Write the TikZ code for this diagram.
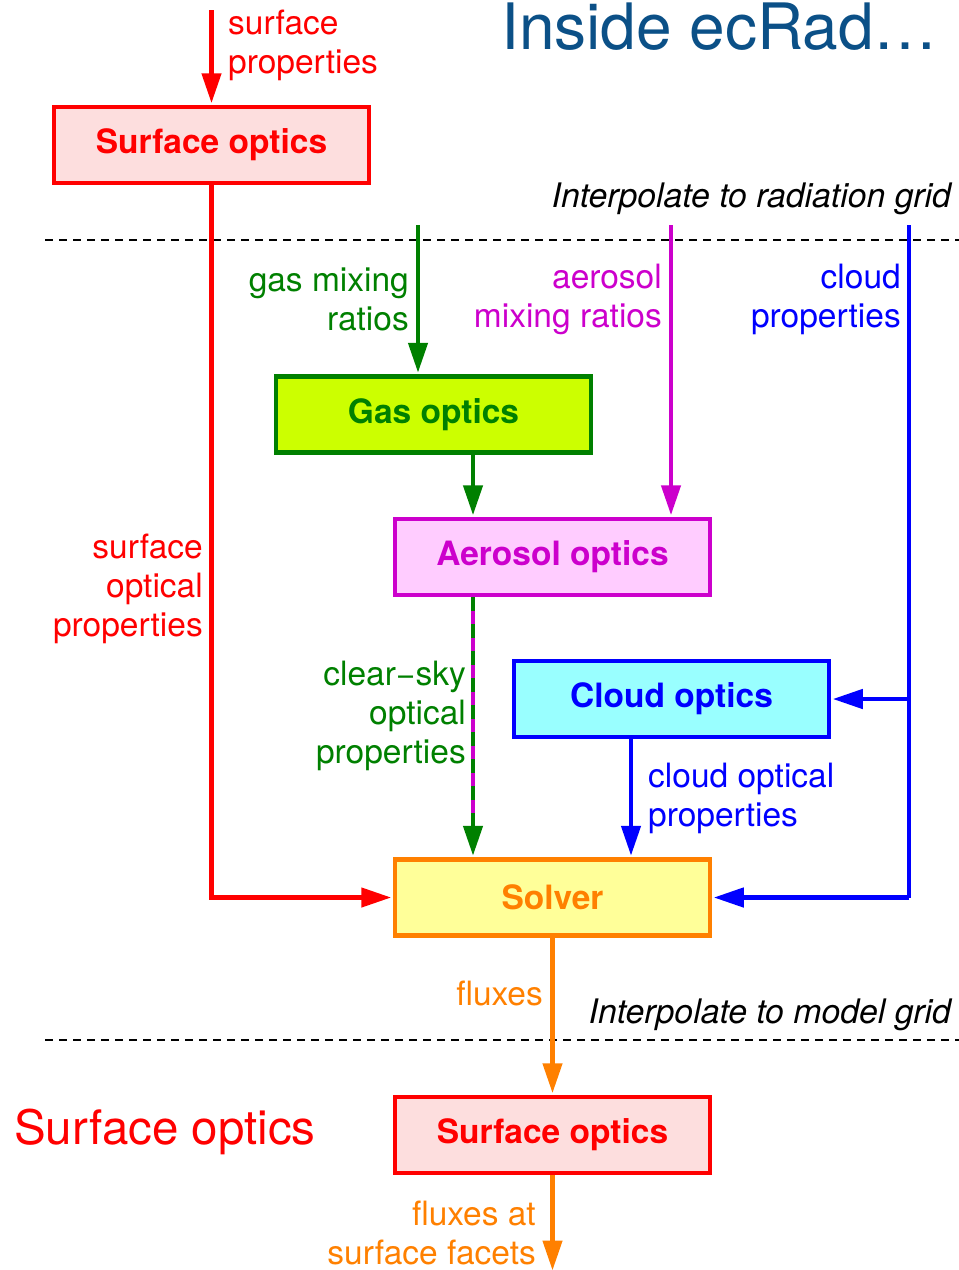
\documentclass[tikz,border=0pt]{standalone}
\usepackage{fontspec}
\setmainfont{TeX Gyre Heros}
\usetikzlibrary{arrows.meta}
\definecolor{cred}{RGB}{255,0,0}
\definecolor{cgreen}{RGB}{0,128,0}
\definecolor{cmag}{RGB}{204,0,204}
\definecolor{cblue}{RGB}{0,0,255}
\definecolor{corange}{RGB}{255,128,0}
\definecolor{fpink}{RGB}{253,222,222}
\definecolor{flime}{RGB}{204,255,0}
\definecolor{fmag}{RGB}{255,204,255}
\definecolor{fcyan}{RGB}{153,255,255}
\definecolor{fyellow}{RGB}{255,255,153}
\definecolor{ctitle}{RGB}{11,80,135}
\begin{document}
\begin{tikzpicture}[x=1pt,y=-1pt,
  box/.style={draw, line width=4.5pt, minimum width=315pt, minimum height=76pt, inner sep=0pt,
    font=\bfseries\fontsize{33.5}{39}\selectfont},
  lab/.style={inner sep=0pt, font=\fontsize{33.5}{39}\selectfont},
  conn/.style={line width=4.5pt, shorten >=1.5pt, -{Triangle[length=30pt,width=19pt]}},
  sep/.style={line width=2pt, dash pattern=on 8pt off 6pt}]
\useasboundingbox (0,0) rectangle (959,1270);

% boxes
\node[box, draw=cred, fill=fpink, text=cred] (surf1) at (211.5,145) {Surface optics};
\node[box, draw=cgreen, fill=flime, text=cgreen] (gas) at (433.5,414.5) {Gas optics};
\node[box, draw=cmag, fill=fmag, text=cmag] (aero) at (552.5,557) {Aerosol optics};
\node[box, draw=cblue, fill=fcyan, text=cblue] (cloud) at (671.5,699) {Cloud optics};
\node[box, draw=corange, fill=fyellow, text=corange] (solver) at (552.5,897.5) {Solver};
\node[box, draw=cred, fill=fpink, text=cred] (surf2) at (552.5,1135) {Surface optics};

% titles
\node[inner sep=0pt, anchor=east, text=ctitle, font=\fontsize{64}{72}\selectfont] (title) at (938,27) {Inside ecRad…};
\node[inner sep=0pt, anchor=west, text=cred, font=\fontsize{47.5}{54}\selectfont] (surflabel) at (14,1132) {Surface optics};

% separators
\coordinate (sepAL) at (45,240);
\coordinate (sepAR) at (959,240);
\coordinate (sepBL) at (45,1040);
\coordinate (sepBR) at (959,1040);
\draw[sep] (sepAL) -- (sepAR);
\draw[sep] (sepBL) -- (sepBR);
\node[lab, anchor=east, font=\itshape\fontsize{33.8}{39}\selectfont] (interp1) at (951,199) {Interpolate to radiation grid};
\node[lab, anchor=east, font=\itshape\fontsize{33.8}{39}\selectfont] (interp2) at (951,1015) {Interpolate to model grid};

% coordinates for free ends
\coordinate (redtop) at (211.5,10);
\coordinate (gastop) at (418,225);
\coordinate (aertop) at (671,225);
\coordinate (cldtop) at (909,225);
\coordinate (cldmid) at (909,699);
\coordinate (cldbot) at (909,897.5);
\coordinate (gx) at (473,0);
\coordinate (cx) at (631,0);
\coordinate (redbot) at (211.5,897.5);
\coordinate (outend) at (552.5,1272);

% connectors
\draw[conn, cred] (redtop) -- (surf1.north);
\node[lab, anchor=west, align=left, text=cred] (lsp) at (228,45) {surface\\properties};

\draw[conn, cred] (surf1.south) -- (redbot) -- (solver.west);
\node[lab, anchor=east, align=right, text=cred] (lsop) at (203,589) {surface\\optical\\properties};

\draw[conn, cgreen] (gastop) -- (gastop |- gas.north);
\node[lab, anchor=east, align=right, text=cgreen] (lgas) at (409,299) {gas mixing\\ratios};

\draw[conn, cmag] (aertop) -- (aertop |- aero.north);
\node[lab, anchor=east, align=right, text=cmag] (laer) at (662,299) {aerosol\\mixing ratios};

\draw[line width=4.5pt, cblue] (cldtop) -- (cldbot);
\draw[conn, cblue] (cldbot) -- (solver.east);
\draw[conn, cblue] (cldmid) -- (cloud.east);
\node[lab, anchor=east, align=right, text=cblue] (lcld) at (901,299) {cloud\\properties};

\draw[conn, cgreen] (gas.south -| gx) -- (aero.north -| gx);

\draw[line width=4.5pt, cmag, shorten >=25pt] (aero.south -| gx) -- (solver.north -| gx);
\draw[conn, cgreen, dash pattern=on 14pt off 13pt] (aero.south -| gx) -- (solver.north -| gx);
\node[lab, anchor=east, align=right, text=cgreen] (lcs) at (466,716) {clear−sky\\optical\\properties};

\draw[conn, cblue] (cloud.south -| cx) -- (solver.north -| cx);
\node[lab, anchor=west, align=left, text=cblue] (lcop) at (648,798) {cloud optical\\properties};

\draw[conn, corange] (solver.south) -- (surf2.north);
\node[lab, anchor=east, text=corange] (lflux) at (543,993) {fluxes};

\draw[conn, corange] (surf2.south) -- (outend);
\node[lab, anchor=east, align=right, text=corange] (lfsf) at (536,1233) {fluxes at\\surface facets};
\end{tikzpicture}
\end{document}
